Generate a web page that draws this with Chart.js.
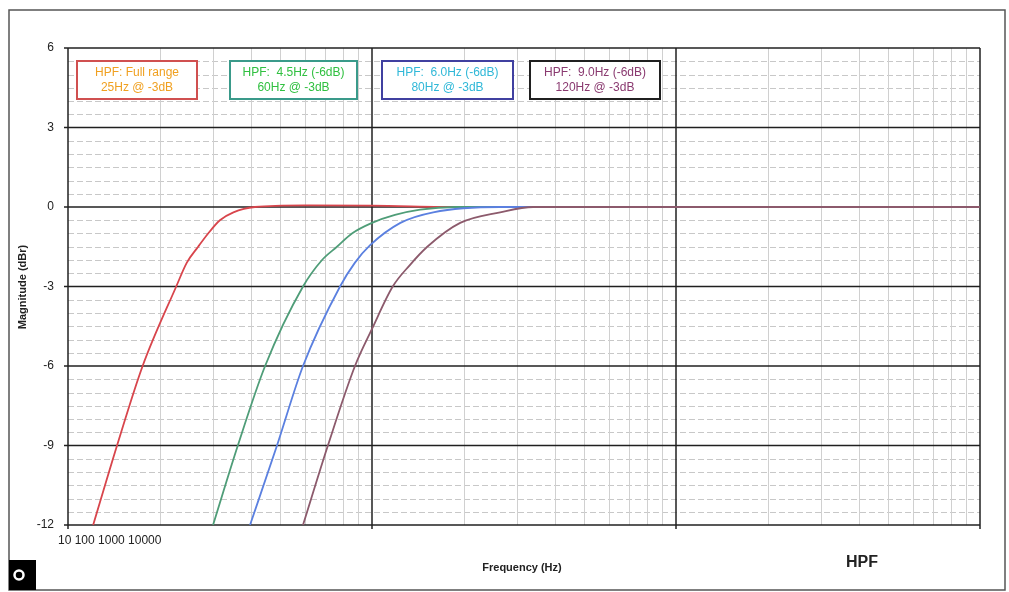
<!DOCTYPE html>
<html>
<head>
<meta charset="utf-8">
<script src="https://cdn.jsdelivr.net/npm/chart.js@4/dist/chart.umd.min.js"></script>
<style>
  html, body { margin: 0; padding: 0; background: #fff; }
  #wrap { position: relative; width: 1009px; height: 592px; }
</style>
</head>
<body>
<div id="wrap"><canvas id="chart" width="1009" height="592"></canvas></div>
<script>
// frequencies (Hz) and magnitudes (dBr)
const fullFreq = [12.1, 14.5, 17.6, 22.7, 24.6, 26.8, 28.9, 31.6, 35, 41.2, 60, 100, 200, 10000];
const fullMag = [-12, -9, -6, -3, -2.1, -1.5, -1, -0.5, -0.2, 0, 0.06, 0.05, 0, 0];
const hz45Freq = [30.0, 36.2, 44.5, 59.3, 68.5, 76.7, 85.9, 100, 119, 144, 188, 400, 10000];
const hz45Mag = [-12, -9, -6, -3, -2, -1.5, -1, -0.6, -0.3, -0.1, 0, 0, 0];
const hz60Freq = [39.7, 48.7, 59.3, 78.5, 87.9, 98.4, 124, 159, 264, 10000];
const hz60Mag = [-12, -9, -6, -3, -2.1, -1.45, -0.6, -0.2, 0, 0];
const hz90Freq = [59.3, 71.6, 87.9, 100, 117, 133, 152, 195, 264, 339, 10000];
const hz90Mag = [-12, -9, -6, -4.6, -3, -2.2, -1.5, -0.6, -0.2, 0, 0];
const yTicks = [6, 3, 0, -3, -6, -9, -12];
const xTickText = "10 100 1000 10000";

const boxes = [
  { lines: ["HPF: Full range", "25Hz @ -3dB"], border: "#d05050", text: "#f0a020", x: 77, w: 120 },
  { lines: ["HPF:  4.5Hz (-6dB)", "60Hz @ -3dB"], border: "#3a9a8a", text: "#30c040", x: 230, w: 127 },
  { lines: ["HPF:  6.0Hz (-6dB)", "80Hz @ -3dB"], border: "#4040a0", text: "#30b8d8", x: 382, w: 131 },
  { lines: ["HPF:  9.0Hz (-6dB)", "120Hz @ -3dB"], border: "#202020", text: "#8a3a70", x: 530, w: 130 },
];

function pts(fx, fy) { return fx.map((f, i) => ({ x: f, y: fy[i] })); }

const decor = {
  id: "decor",
  beforeDatasetsDraw(c) {
    const ctx = c.ctx, xs = c.scales.x, ys = c.scales.y, a = c.chartArea;
    ctx.save();
    // minor horizontal dashed lines
    ctx.lineWidth = 1;
    for (let v = -12; v <= 6; v += 0.5) {
      if (v % 3 === 0) continue;
      const y = Math.round(ys.getPixelForValue(v)) + 0.5;
      ctx.strokeStyle = "#c8c8c8";
      ctx.setLineDash([6, 3]);
      ctx.beginPath(); ctx.moveTo(a.left, y); ctx.lineTo(a.right, y); ctx.stroke();
    }
    ctx.setLineDash([]);
    // minor vertical lines
    for (let d = 10; d < 10000; d *= 10) {
      for (let k = 2; k <= 9; k++) {
        const x = Math.round(xs.getPixelForValue(d * k)) + 0.5;
        ctx.strokeStyle = "#d0d0d0";
        ctx.beginPath(); ctx.moveTo(x, a.top); ctx.lineTo(x, a.bottom); ctx.stroke();
      }
    }
    // major lines
    ctx.strokeStyle = "#202020";
    ctx.lineWidth = 1.5;
    yTicks.forEach(v => {
      const y = ys.getPixelForValue(v);
      ctx.beginPath(); ctx.moveTo(a.left - 4, y); ctx.lineTo(a.right, y); ctx.stroke();
    });
    [10, 100, 1000, 10000].forEach(v => {
      const x = xs.getPixelForValue(v);
      ctx.beginPath(); ctx.moveTo(x, a.top); ctx.lineTo(x, a.bottom + 4); ctx.stroke();
    });
    ctx.restore();
  },
  afterDraw(c) {
    const ctx = c.ctx, ys = c.scales.y;
    ctx.save();
    // page frame
    ctx.strokeStyle = "#555";
    ctx.lineWidth = 1.5;
    ctx.strokeRect(9, 10, 996, 580);
    // y tick labels
    ctx.fillStyle = "#222";
    ctx.font = "12px Arial, 'Liberation Sans'";
    ctx.textAlign = "right"; ctx.textBaseline = "middle";
    yTicks.forEach(v => ctx.fillText(String(v), 54, ys.getPixelForValue(v)));
    // x tick labels, crammed together as in the source
    ctx.textAlign = "left";
    ctx.fillText(xTickText, 58, 541);
    // titles
    ctx.font = "bold 11px Arial, 'Liberation Sans'";
    ctx.textAlign = "center";
    ctx.fillText("Frequency (Hz)", 522, 568);
    ctx.save();
    ctx.translate(23, 287); ctx.rotate(-Math.PI / 2);
    ctx.fillText("Magnitude (dBr)", 0, 0);
    ctx.restore();
    ctx.font = "bold 16px Arial, 'Liberation Sans'";
    ctx.fillText("HPF", 862, 563);
    // black corner badge
    ctx.fillStyle = "#000";
    ctx.fillRect(9, 560, 27, 30);
    ctx.strokeStyle = "#fff"; ctx.lineWidth = 2.5;
    ctx.beginPath(); ctx.arc(19, 575, 4.5, 0, Math.PI * 2); ctx.stroke();
    // legend boxes
    ctx.font = "12px Arial, 'Liberation Sans'";
    boxes.forEach(b => {
      ctx.fillStyle = "#fff";
      ctx.fillRect(b.x, 61, b.w, 38);
      ctx.strokeStyle = b.border; ctx.lineWidth = 2;
      ctx.strokeRect(b.x, 61, b.w, 38);
      ctx.fillStyle = b.text;
      ctx.fillText(b.lines[0], b.x + b.w / 2, 73);
      ctx.fillText(b.lines[1], b.x + b.w / 2, 88);
    });
    ctx.restore();
  }
};

const ds = (label, data, color) => ({
  label, data, borderColor: color, borderWidth: 1.8,
  pointRadius: 0, cubicInterpolationMode: "monotone", fill: false
});

new Chart(document.querySelector("#chart").getContext("2d"), {
  type: "line",
  data: {
    datasets: [
      ds("HPF: 9.0Hz", pts(hz90Freq, hz90Mag), "#8c5a6c"),
      ds("HPF: 6.0Hz", pts(hz60Freq, hz60Mag), "#5b80e0"),
      ds("HPF: 4.5Hz", pts(hz45Freq, hz45Mag), "#4f9d78"),
      ds("HPF: Full range", pts(fullFreq, fullMag), "#d8454c"),
    ],
  },
  options: {
    responsive: false,
    animation: false,
    layout: { padding: { left: 68, top: 48, right: 29, bottom: 67 } },
    plugins: { legend: { display: false }, tooltip: { enabled: false } },
    scales: {
      x: { type: "logarithmic", min: 10, max: 10000, display: false },
      y: { min: -12, max: 6, display: false },
    },
  },
  plugins: [decor],
});
</script>
</body>
</html>
